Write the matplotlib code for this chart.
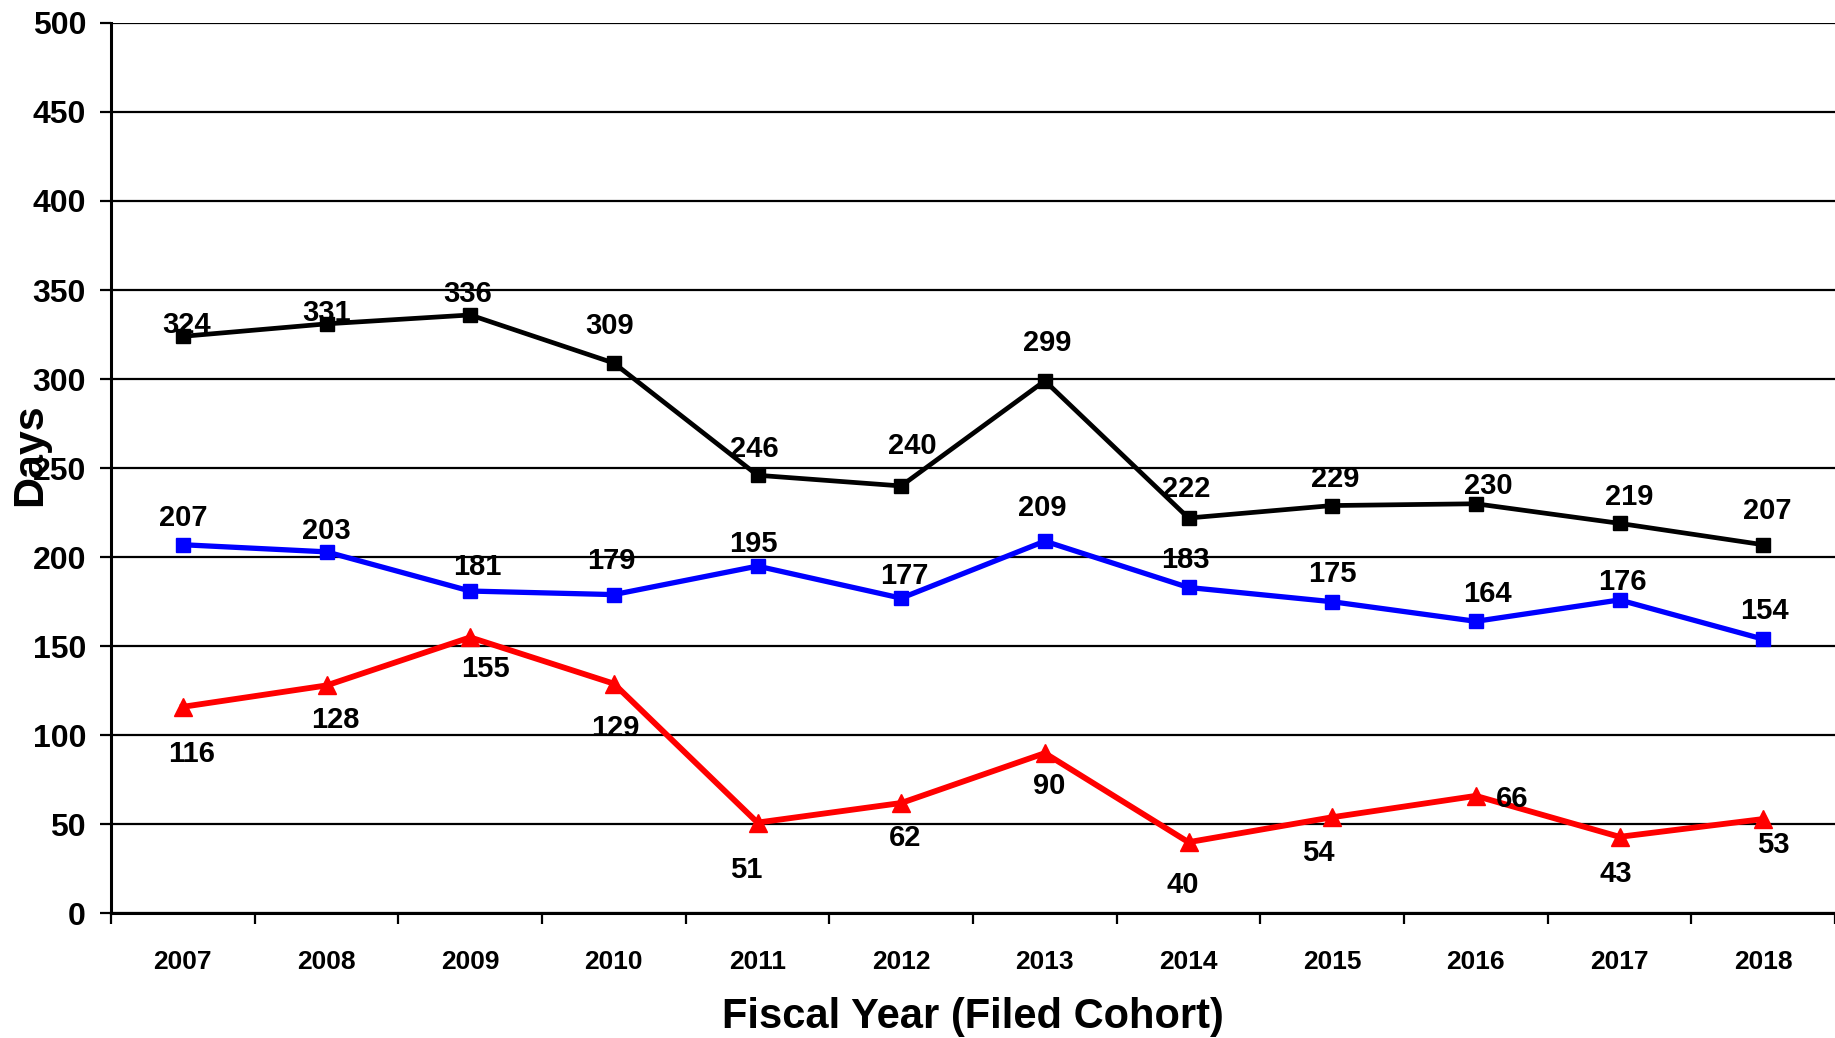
import matplotlib
matplotlib.use('Agg')
from matplotlib import pyplot as plt
import numpy as np

# chart data
years = ['2007', '2008', '2009', '2010', '2011', '2012',
         '2013', '2014', '2015', '2016', '2017', '2018']
black_days = [324, 331, 336, 309, 246, 240, 299, 222, 229, 230, 219, 207]
blue_days = [207, 203, 181, 179, 195, 177, 209, 183, 175, 164, 176, 154]
red_days = [116, 128, 155, 129, 51, 62, 90, 40, 54, 66, 43, 53]
y_ticks = [0, 50, 100, 150, 200, 250, 300, 350, 400, 450, 500]

# label offsets (points), hand placed like the original
black_dx = [3, 0, -2, -3, -2, 8, 2, -2, 2, 9, 7, 3]
black_dy = [8, 8, 15, 27, 19, 29, 27, 21, 19, 13, 19, 24]
blue_dx = [0, 0, 5, -2, -3, 2, -2, -2, 0, 8, 2, 1]
blue_dy = [19, 15, 17, 24, 16, 16, 24, 20, 20, 20, 13, 20]
red_dx = [6, 6, 11, 1, -8, 3, 3, -4, -10, 26, -3, 7]
red_dy = [-34, -25, -23, -32, -34, -25, -24, -31, -26, -2, -27, -19]

plt.rcParams['font.family'] = ['Liberation Sans', 'DejaVu Sans']
plt.rcParams['font.weight'] = 'bold'

fig = plt.figure(figsize=(18.35, 10.38), dpi=100)
ax = fig.add_axes([0.0605, 0.12, 0.9395, 0.858])

x = np.arange(len(years))

series = [
    (black_days, 'black', 's', 10, 3.4, black_dx, black_dy),
    (blue_days, '#0000ff', 's', 10, 3.8, blue_dx, blue_dy),
    (red_days, '#ff0000', '^', 13, 4.2, red_dx, red_dy),
]
for vals, col, mk, ms, lw, dxs, dys in series:
    ax.plot(x, vals, color=col, marker=mk, markersize=ms, linewidth=lw,
            markeredgecolor=col, zorder=3, clip_on=False)
    for xi, v, dx, dy in zip(x, vals, dxs, dys):
        ax.annotate(str(v), (xi, v), xytext=(dx, dy), textcoords='offset points',
                    ha='center', va='center', fontsize=21, fontweight='bold',
                    color='black', zorder=4)

ax.set_xlim(-0.5, len(years) - 0.5)
ax.set_ylim(0, 500)
ax.set_yticks(y_ticks)
ax.set_yticklabels([str(t) for t in y_ticks])
ax.grid(axis='y', color='black', linewidth=1.6, zorder=1)
ax.set_axisbelow(True)

ax.set_xticks(x)
ax.set_xticklabels(years)
ax.set_xticks(np.arange(-0.5, len(years) - 0.4, 1.0), minor=True)
ax.tick_params(axis='x', which='major', length=0, pad=26, labelsize=19)
ax.tick_params(axis='x', which='minor', length=8, width=1.6, direction='out')
ax.tick_params(axis='y', length=8, width=1.6, pad=10, labelsize=23)

for side in ['top', 'right']:
    ax.spines[side].set_visible(False)
for side in ['left', 'bottom']:
    ax.spines[side].set_linewidth(2.2)

ax.set_ylabel('Days', fontsize=31, fontweight='bold')
ax.yaxis.set_label_coords(-0.047, 0.515)
ax.yaxis.label.set_va('center')

ax.set_xlabel('Fiscal Year (Filed Cohort)', fontsize=30, fontweight='bold')
ax.xaxis.set_label_coords(0.5, -0.129)
ax.xaxis.label.set_va('baseline')

fig.savefig('out.png', dpi=100)
